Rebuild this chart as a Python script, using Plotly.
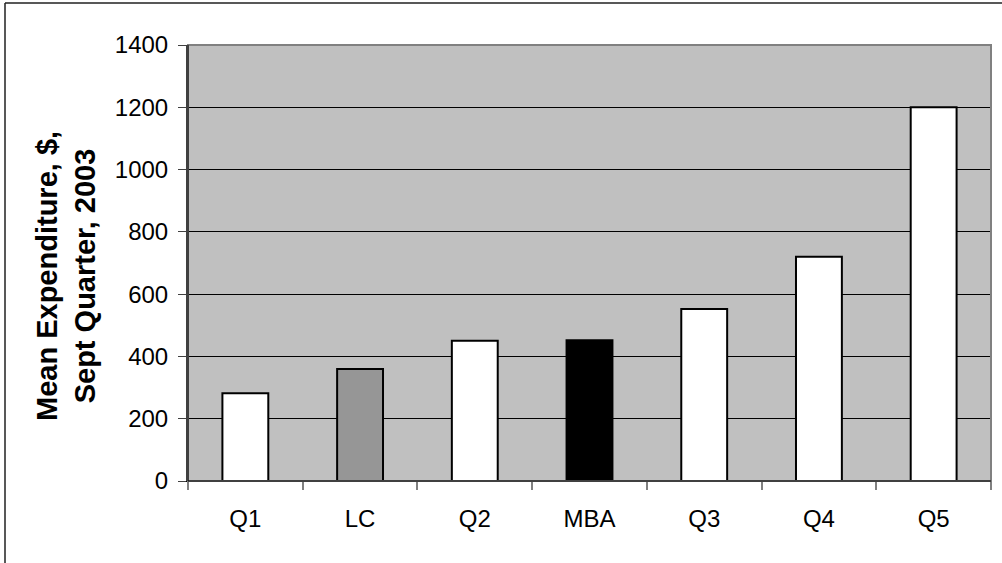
import plotly.graph_objects as go

categories = ["Q1", "LC", "Q2", "MBA", "Q3", "Q4", "Q5"]
values = [282, 360, 450, 452, 552, 720, 1200]
bar_colors = ["#FFFFFF", "#969696", "#FFFFFF", "#000000", "#FFFFFF", "#FFFFFF", "#FFFFFF"]
y_ticks = [0, 200, 400, 600, 800, 1000, 1200, 1400]

W, H = 1002, 563
L, R, T, B = 188, 11, 45, 82
pw, ph = W - L - R, H - T - B

FONT = "Arial, 'Liberation Sans', sans-serif"

fig = go.Figure()
fig.add_trace(go.Bar(
    x=categories, y=values,
    marker=dict(color=bar_colors, line=dict(color="#000000", width=2)),
    hoverinfo="x+y",
))

def px_x(p):
    return (p - L) / pw

def px_y(p):
    return (H - B - p) / ph

fig.update_layout(
    width=W, height=H,
    margin=dict(l=L, r=R, t=T, b=B),
    paper_bgcolor="#FFFFFF",
    plot_bgcolor="#C0C0C0",
    bargap=0.6,
    showlegend=False,
    font=dict(family=FONT, size=24, color="#000000"),
    xaxis=dict(
        type="category",
        showgrid=False,
        showline=True, linecolor="#000000", linewidth=1,
        ticks="outside", tickson="boundaries", ticklen=8, tickcolor="#808080", tickwidth=2,
        tickfont=dict(family=FONT, size=24),
        ticklabelstandoff=16,
    ),
    yaxis=dict(
        range=[0, 1400],
        tickvals=y_ticks,
        showgrid=True, gridcolor="#000000", gridwidth=1,
        zeroline=False,
        showline=True, linecolor="#404040", linewidth=2,
        ticks="outside", ticklen=8, tickcolor="#404040", tickwidth=1,
        tickfont=dict(family=FONT, size=24),
        ticklabelstandoff=5,
    ),
    shapes=[
        dict(type="rect", xref="paper", yref="paper", x0=0, x1=1, y0=0, y1=1,
             line=dict(color="#808080", width=2), layer="above"),
        dict(type="line", xref="paper", yref="paper", x0=0, x1=0, y0=0, y1=1,
             line=dict(color="#404040", width=2), layer="above"),
        dict(type="line", xref="paper", yref="paper", x0=0, x1=1, y0=0, y1=0,
             line=dict(color="#000000", width=1), layer="above"),
        dict(type="line", xref="paper", yref="paper", x0=px_x(5), x1=px_x(5), y0=px_y(3), y1=px_y(600),
             line=dict(color="#202020", width=1.5)),
        dict(type="line", xref="paper", yref="paper", x0=px_x(5), x1=px_x(1010), y0=px_y(3), y1=px_y(3),
             line=dict(color="#202020", width=1.5)),
    ],
    annotations=[
        dict(text="<b>Mean Expenditure, $,<br>Sept Quarter, 2003</b>",
             xref="paper", yref="paper", x=px_x(66), y=px_y(276),
             xanchor="center", yanchor="middle", textangle=-90, showarrow=False,
             font=dict(family=FONT, size=29, color="#000000"), align="center"),
    ],
)

fig.write_html("out.html")
